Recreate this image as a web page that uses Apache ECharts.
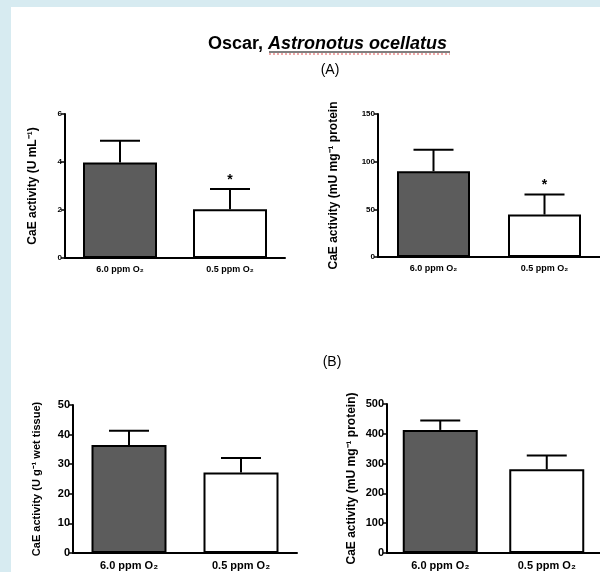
<!DOCTYPE html>
<html>
<head>
<meta charset="utf-8">
<script src="https://cdn.jsdelivr.net/npm/echarts@6/dist/echarts.min.js"></script>
<style>
html,body{margin:0;padding:0;background:#fff;}
#chart{width:600px;height:572px;}
</style>
</head>
<body>
<div id="chart"></div>
<script>
// ---- data ----
const categories = ['6.0 ppm O\u2082', '0.5 ppm O\u2082'];
const a1Mean = [3.98, 2.03];
const a1Err  = [0.91, 0.85];
const a2Mean = [90, 44.5];
const a2Err  = [22.5, 21];
const b1Mean = [36.5, 27.2];
const b1Err  = [4.8, 4.9];
const b2Mean = [413, 281];
const b2Err  = [32, 46];
const a1Sig = ['', '*'];
const a2Sig = ['', '*'];
const b1Sig = ['', ''];
const b2Sig = ['', ''];
const yNames = [
  'CaE activity (U mL\u207B\u00B9)',
  'CaE activity (mU mg\u207B\u00B9 protein',
  'CaE activity (U g\u207B\u00B9 wet tissue)',
  'CaE activity (mU mg\u207B\u00B9 protein)'
];
const yMax = [6, 150, 50, 500];
const yInterval = [2, 50, 10, 100];

// ---- layout/style ----
const FONT = '"Liberation Sans", Arial, sans-serif';
const fills = ['#5c5c5c', '#ffffff'];
const panels = [
  {mean:a1Mean, err:a1Err, sig:a1Sig, grid:{left:65, top:114, width:220, height:144}, bw:74, lab:9, tick:8, nameGap:26, nameSize:12},
  {mean:a2Mean, err:a2Err, sig:a2Sig, grid:{left:378, top:114, width:224, height:143}, bw:73, lab:9, tick:8, nameGap:38, nameSize:12},
  {mean:b1Mean, err:b1Err, sig:b1Sig, grid:{left:73, top:405, width:224, height:148}, bw:75, lab:11, tick:11, nameGap:31, nameSize:11},
  {mean:b2Mean, err:b2Err, sig:b2Sig, grid:{left:387, top:404, width:228, height:149}, bw:75, lab:11, tick:11, nameGap:29, nameSize:12}
];

const grids = [], xAxes = [], yAxes = [], series = [];
panels.forEach((p, i) => {
  grids.push(Object.assign({containLabel:false}, p.grid));
  xAxes.push({
    type:'category', gridIndex:i, data:categories,
    axisLine:{lineStyle:{color:'#000', width:2}},
    axisTick:{alignWithLabel:true, length:4, lineStyle:{color:'#000', width:1.5}},
    axisLabel:{color:'#000', fontWeight:'bold', fontSize:p.lab, fontFamily:FONT, margin:7}
  });
  yAxes.push({
    type:'value', gridIndex:i, min:0, max:yMax[i], interval:yInterval[i],
    axisLine:{show:true, lineStyle:{color:'#000', width:2}},
    axisTick:{show:true, length:4, lineStyle:{color:'#000', width:1.5}},
    splitLine:{show:false},
    axisLabel:{color:'#000', fontWeight:'bold', fontSize:p.tick, fontFamily:FONT, margin:3},
    name:yNames[i], nameLocation:'middle', nameGap:p.nameGap, nameRotate:90,
    nameTextStyle:{color:'#000', fontWeight:'bold', fontSize:p.nameSize, fontFamily:FONT}
  });
  series.push({
    type:'bar', xAxisIndex:i, yAxisIndex:i, barWidth:p.bw,
    data:p.mean.map((v, k) => ({value:v, itemStyle:{color:fills[k], borderColor:'#000', borderWidth:2}})),
    z:2
  });
  series.push({
    type:'custom', xAxisIndex:i, yAxisIndex:i, z:3,
    data:p.mean.map((v, k) => [k, v, p.err[k], k]),
    renderItem:function(params, api){
      const x = api.value(0), y = api.value(1), e = api.value(2), idx = api.value(3);
      const base = api.coord([x, y]);
      const top = api.coord([x, y + e]);
      const half = 20;
      const ch = [
        {type:'line', shape:{x1:base[0], y1:base[1], x2:top[0], y2:top[1]}, style:{stroke:'#000', lineWidth:2}},
        {type:'line', shape:{x1:top[0]-half, y1:top[1], x2:top[0]+half, y2:top[1]}, style:{stroke:'#000', lineWidth:2}}
      ];
      const s = p.sig[idx];
      if (s) {
        ch.push({type:'text', x:top[0], y:top[1]-9, style:{text:s, fill:'#000', font:'bold 14px ' + FONT, align:'center', verticalAlign:'middle'}});
      }
      return {type:'group', children:ch};
    }
  });
});

const chart = echarts.init(document.getElementById('chart'), null, {renderer:'canvas'});
chart.setOption({
  backgroundColor:'#ffffff',
  animation:false,
  title:[{
    text:'{a|Oscar, }{b|Astronotus ocellatus}',
    left:208, top:35, padding:0,
    textStyle:{rich:{
      a:{fontSize:18, fontWeight:'bold', color:'#000', fontFamily:FONT},
      b:{fontSize:18, fontWeight:'bold', fontStyle:'italic', color:'#000', fontFamily:FONT}
    }}
  }],
  graphic:[
    {type:'rect', left:0, top:0, shape:{width:600, height:7}, style:{fill:'#d7ebf1'}, silent:true},
    {type:'rect', left:0, top:0, shape:{width:11, height:572}, style:{fill:'#d7ebf1'}, silent:true},
    {type:'line', shape:{x1:269, y1:52, x2:450, y2:52}, style:{stroke:'#000', lineWidth:1}, silent:true},
    {type:'line', shape:{x1:269, y1:54, x2:450, y2:54}, style:{stroke:'#e05050', lineWidth:1, lineDash:[2,2]}, silent:true},
    {type:'text', x:330, y:70, style:{text:'(A)', font:'14px ' + FONT, fill:'#000', align:'center', verticalAlign:'middle'}, silent:true},
    {type:'text', x:332, y:362, style:{text:'(B)', font:'14px ' + FONT, fill:'#000', align:'center', verticalAlign:'middle'}, silent:true}
  ],
  grid:grids, xAxis:xAxes, yAxis:yAxes, series:series
});
</script>
</body>
</html>
